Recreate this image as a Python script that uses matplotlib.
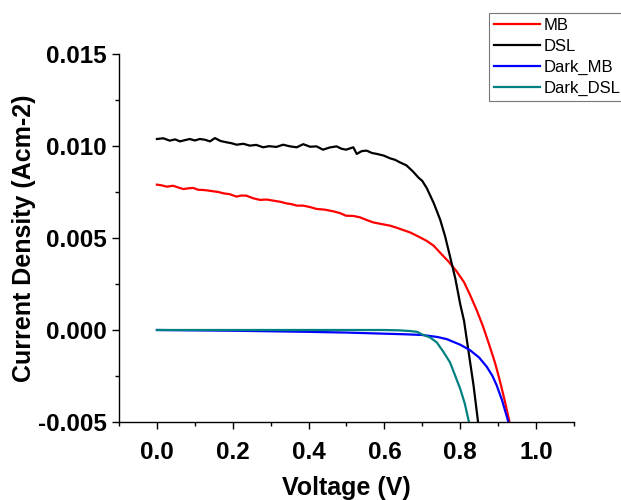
import numpy as np
import matplotlib
matplotlib.use("Agg")
import matplotlib.pyplot as plt
from matplotlib.ticker import MultipleLocator, FormatStrFormatter

plt.rcParams['font.family'] = ['Liberation Sans', 'DejaVu Sans']
plt.rcParams['axes.unicode_minus'] = False

# ---- data ----
v_dsl = [0, 0.017, 0.034, 0.048, 0.061, 0.074, 0.087, 0.10, 0.113, 0.127, 0.14, 0.153,
         0.168, 0.184, 0.197, 0.21, 0.228, 0.245, 0.262, 0.28, 0.296, 0.315, 0.333, 0.351,
         0.369, 0.386, 0.404, 0.421, 0.438, 0.456, 0.474, 0.487, 0.499, 0.518, 0.527, 0.54,
         0.553, 0.567, 0.58, 0.598, 0.615, 0.628, 0.641, 0.658, 0.676, 0.689, 0.70, 0.712,
         0.73, 0.747, 0.76, 0.773, 0.787, 0.80, 0.81, 0.82, 0.835, 0.847]
j_dsl = [0.01038, 0.01042, 0.01029, 0.01036, 0.01025, 0.01032, 0.01038, 0.01030, 0.01038,
         0.01034, 0.01025, 0.01043, 0.01027, 0.0102, 0.01015, 0.01007, 0.01012, 0.01002,
         0.01006, 0.00993, 0.00999, 0.00995, 0.01007, 0.00998, 0.00993, 0.0101, 0.00996,
         0.00998, 0.0098, 0.00992, 0.00998, 0.00985, 0.0098, 0.00993, 0.00957, 0.00972,
         0.00975, 0.00962, 0.00957, 0.00948, 0.00933, 0.00925, 0.00911, 0.00895, 0.0086,
         0.0083, 0.0081, 0.0077, 0.0069, 0.006, 0.0051, 0.004, 0.0028, 0.0014, 0.0005,
         -0.0009, -0.003, -0.005]

v_mb = [0, 0.013, 0.026, 0.043, 0.057, 0.07, 0.083, 0.096, 0.109, 0.122, 0.135, 0.148,
        0.162, 0.175, 0.192, 0.21, 0.223, 0.236, 0.254, 0.272, 0.29, 0.307, 0.325, 0.342,
        0.355, 0.369, 0.386, 0.404, 0.421, 0.443, 0.465, 0.482, 0.499, 0.518, 0.536, 0.553,
        0.57, 0.592, 0.615, 0.632, 0.65, 0.668, 0.685, 0.711, 0.73, 0.747, 0.77, 0.79,
        0.81, 0.826, 0.843, 0.86, 0.878, 0.892, 0.905, 0.918, 0.93]
j_mb = [0.0079, 0.00786, 0.00779, 0.00784, 0.00774, 0.00766, 0.00770, 0.00772, 0.00762,
        0.00761, 0.00758, 0.00754, 0.00750, 0.00743, 0.00738, 0.00725, 0.00731, 0.0073,
        0.00716, 0.00707, 0.00709, 0.00703, 0.00697, 0.00688, 0.00684, 0.00676, 0.00676,
        0.00668, 0.00658, 0.00654, 0.00645, 0.00636, 0.00621, 0.00620, 0.00612, 0.00598,
        0.00585, 0.00576, 0.00567, 0.00556, 0.00543, 0.00530, 0.00513, 0.00485, 0.00458,
        0.0042, 0.0037, 0.0032, 0.0026, 0.0019, 0.0011, 0.0002, -0.0009, -0.0018, -0.0028,
        -0.0039, -0.005]

v_dark_mb = [0, 0.2, 0.4, 0.5, 0.6, 0.65, 0.70, 0.74, 0.765, 0.80, 0.826, 0.85, 0.87,
             0.885, 0.896, 0.91, 0.927]
j_dark_mb = [0, -0.00004, -0.0001, -0.00014, -0.0002, -0.00023, -0.00027, -0.00038,
             -0.0005, -0.0008, -0.0011, -0.0015, -0.002, -0.0025, -0.003, -0.0038, -0.005]

v_dark_dsl = [0, 0.2, 0.4, 0.6, 0.64, 0.67, 0.686, 0.70, 0.72, 0.738, 0.756, 0.773, 0.787,
              0.80, 0.812, 0.823]
j_dark_dsl = [0, 0, 0, 0, -0.00002, -0.00006, -0.0001, -0.00025, -0.0004, -0.00067,
              -0.0012, -0.00176, -0.0025, -0.0032, -0.004, -0.005]

fig = plt.figure(figsize=(6.21, 5.0), dpi=100)
ax = fig.add_axes([0.1916, 0.156, 0.7327, 0.736])

ax.plot(v_mb, j_mb, color='#ff0000', lw=1.6, label='MB')
ax.plot(v_dsl, j_dsl, color='black', lw=1.6, label='DSL')
ax.plot(v_dark_mb, j_dark_mb, color='#0000ff', lw=1.6, label='Dark_MB')
ax.plot(v_dark_dsl, j_dark_dsl, color='#008080', lw=1.6, label='Dark_DSL')

ax.set_xlim(-0.1, 1.1)
ax.set_ylim(-0.005, 0.015)
ax.xaxis.set_major_locator(MultipleLocator(0.2))
ax.xaxis.set_minor_locator(MultipleLocator(0.1))
ax.yaxis.set_major_locator(MultipleLocator(0.005))
ax.yaxis.set_minor_locator(MultipleLocator(0.0025))
ax.xaxis.set_major_formatter(FormatStrFormatter('%.1f'))
ax.yaxis.set_major_formatter(FormatStrFormatter('%.3f'))

ax.spines['top'].set_visible(False)
ax.spines['right'].set_visible(False)
for s in ['left', 'bottom']:
    ax.spines[s].set_linewidth(1.0)
ax.tick_params(which='major', direction='out', length=5, width=1.0, labelsize=17.5)
ax.tick_params(axis='y', which='major', pad=4)
ax.tick_params(axis='x', which='major', pad=9)
ax.tick_params(which='minor', direction='out', length=3, width=1.0)
for lab in ax.get_xticklabels() + ax.get_yticklabels():
    lab.set_fontweight('bold')

ax.set_xlabel('Voltage (V)', fontsize=18, fontweight='bold', labelpad=8)
ax.set_ylabel('Current Density (Acm-2)', fontsize=18, fontweight='bold', labelpad=1)

leg = ax.legend(loc='upper left', bbox_to_anchor=(0.787, 0.974), bbox_transform=fig.transFigure,
                fontsize=12, frameon=True, fancybox=False, handlelength=2.8,
                handletextpad=0.2, borderpad=0.3, labelspacing=0.36, borderaxespad=0)
leg.get_frame().set_edgecolor('#555555')
leg.get_frame().set_linewidth(0.8)

fig.savefig('out.png', dpi=100)
